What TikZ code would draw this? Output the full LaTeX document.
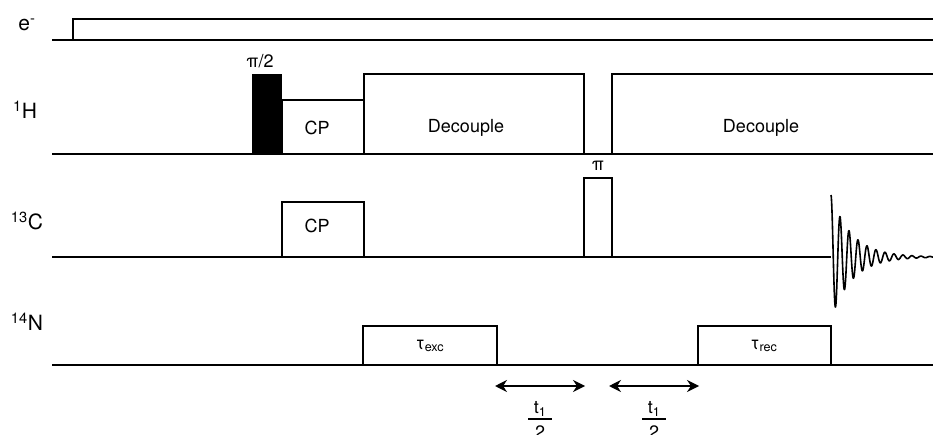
\documentclass[tikz,border=0pt]{standalone}
\usepackage{fontspec}
\setmainfont{TeX Gyre Heros}
\usetikzlibrary{arrows.meta}
\begin{document}
\begin{tikzpicture}[x=1pt,y=-1pt,
  base/.style={line width=1.3pt},
  pulse/.style={line width=1.8pt},
  chan/.style={font=\fontsize{21}{21}\selectfont, inner sep=0pt},
  lbl/.style={font=\fontsize{18}{18}\selectfont, inner sep=0pt},
  span/.style={line width=1.4pt, {Stealth[length=12pt,width=12pt]}-{Stealth[length=12pt,width=12pt]}},
]
\useasboundingbox (0,0) rectangle (933,435);

% channel names
\node[chan] (le) at (27,25) {e\textsuperscript{-}};
\node[chan] (lh) at (25,110) {\textsuperscript{1}H};
\node[chan] (lc) at (27,221) {\textsuperscript{13}C};
\node[chan] (ln) at (27,322) {\textsuperscript{14}N};

% electron channel
\draw[base] (52,40) -- (933,40);
\draw[pulse] (73,40) -- (73,19) -- (933,19);

% proton channel
\draw[base] (52,154) -- (933,154);
\fill (252,74) rectangle (282,154);
\draw[pulse] (282,154) -- (282,100) -- (364,100);
\draw[pulse] (364,154) -- (364,74) -- (584,74) -- (584,154);
\draw[pulse] (612,154) -- (612,74) -- (933,74);
\node[lbl] (p90) at (260,61) {π/2};
\node[lbl] (cph) at (317,128) {CP};
\node[lbl] (dec1) at (466,128) {Decouple};
\node[lbl] (dec2) at (761,128) {Decouple};

% carbon channel
\draw[base] (52,257) -- (831,257);
\draw[pulse] (282,257) -- (282,202) -- (364,202) -- (364,257);
\draw[pulse] (584,257) -- (584,178) -- (612,178) -- (612,257);
\node[lbl] (cpc) at (317,226) {CP};
\node[lbl] (p180) at (598,166) {π};
% free induction decay
\draw[line width=1.6pt, line join=round] plot[domain=0:102, samples=500, smooth]
  ({831+\x}, {257 - 62*exp(-\x/21)*cos(\x*40)});

% nitrogen channel
\draw[base] (52,365) -- (933,365);
\draw[pulse] (363,365) -- (363,326) -- (497,326) -- (497,365);
\draw[pulse] (698,365) -- (698,326) -- (831,326) -- (831,365);
\node[lbl] (texc) at (430,346) {τ\textsubscript{exc}};
\node[lbl] (trec) at (764,346) {τ\textsubscript{rec}};

% evolution periods
\coordinate (e1l) at (495,386);
\coordinate (e1r) at (585,386);
\coordinate (e2l) at (609,386);
\coordinate (e2r) at (699,386);
\draw[span] (e1l) -- (e1r);
\draw[span] (e2l) -- (e2r);

\foreach \n/\cx in {a/540, b/654} {
  \node[lbl, anchor=south] (num\n) at (\cx,417) {t\textsubscript{1}};
  \node[lbl, anchor=north] (den\n) at (\cx,426) {2};
  \draw[line width=1.2pt] ([xshift=-12pt]\cx,419) -- ([xshift=12pt]\cx,419);
}
\end{tikzpicture}
\end{document}
